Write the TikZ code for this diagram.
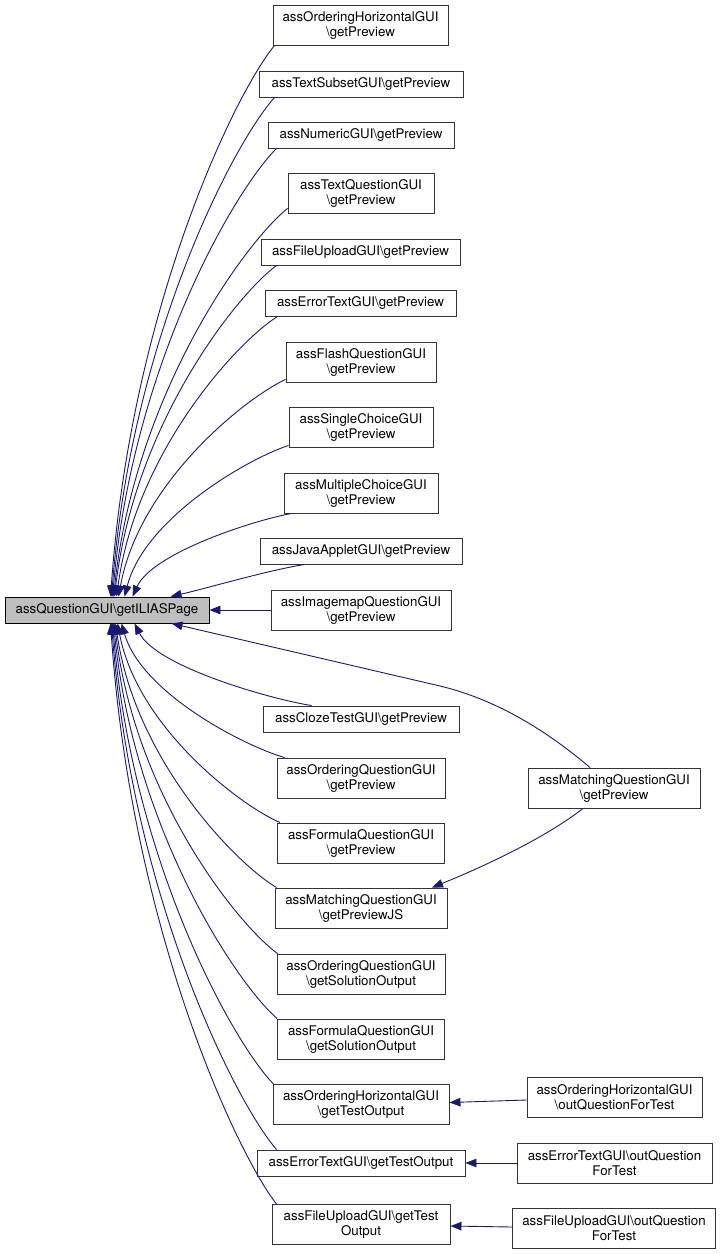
\documentclass[tikz,border=0pt]{standalone}
\usepackage{fontspec}
\setmainfont{TeX Gyre Heros}
\usetikzlibrary{arrows.meta,calc}
\definecolor{edgeblue}{HTML}{191970}
\definecolor{boxline}{HTML}{333333}
\definecolor{mainfill}{HTML}{BFBFBF}
\newcommand{\bs}{\textbackslash}
\begin{document}
\begin{tikzpicture}[x=1pt,y=-1pt,
  fnbox/.style 2 args={draw=boxline, line width=0.9pt, fill=white, inner sep=0pt,
    minimum width=#1pt, minimum height=#2pt, align=center,
    font=\fontsize{13.3}{15}\selectfont},
  callarrow/.style={draw=edgeblue, line width=0.9pt,
    -{Triangle[length=11pt,width=8.5pt]}}]
\useasboundingbox (0,0) rectangle (721,1255);
\fill[white] (0,0) rectangle (721,1255);
% main node
\node[fnbox={204}{26}, fill=mainfill, draw=black] (main) at (107,610) {assQuestionGUI\bs getILIASPage};
% middle column
\node[fnbox={175}{40}] (OHprev) at (360.5,25) {assOrderingHorizontalGUI\\\bs getPreview};
\node[fnbox={204}{26}] (TSprev) at (361,84) {assTextSubsetGUI\bs getPreview};
\node[fnbox={186}{26}] (NUprev) at (361,135) {assNumericGUI\bs getPreview};
\node[fnbox={146}{40}] (TQprev) at (361,193) {assTextQuestionGUI\\\bs getPreview};
\node[fnbox={199}{26}] (FUprev) at (360.5,252) {assFileUploadGUI\bs getPreview};
\node[fnbox={191}{26}] (ETprev) at (360.5,303) {assErrorTextGUI\bs getPreview};
\node[fnbox={150}{40}] (FQprev) at (361,362) {assFlashQuestionGUI\\\bs getPreview};
\node[fnbox={144}{40}] (SCprev) at (361,427) {assSingleChoiceGUI\\\bs getPreview};
\node[fnbox={154}{40}] (MCprev) at (361,493) {assMultipleChoiceGUI\\\bs getPreview};
\node[fnbox={202}{26}] (JAprev) at (361,551) {assJavaAppletGUI\bs getPreview};
\node[fnbox={180}{40}] (IMprev) at (361,610) {assImagemapQuestionGUI\\\bs getPreview};
\node[fnbox={196}{26}] (CTprev) at (361,719) {assClozeTestGUI\bs getPreview};
\node[fnbox={168}{40}] (OQprev) at (361,778) {assOrderingQuestionGUI\\\bs getPreview};
\node[fnbox={167}{40}] (FOprev) at (361,843) {assFormulaQuestionGUI\\\bs getPreview};
\node[fnbox={172}{40}] (MQpjs) at (361,908) {assMatchingQuestionGUI\\\bs getPreviewJS};
\node[fnbox={168}{40}] (OQsol) at (361,974) {assOrderingQuestionGUI\\\bs getSolutionOutput};
\node[fnbox={167}{40}] (FOsol) at (361,1039) {assFormulaQuestionGUI\\\bs getSolutionOutput};
\node[fnbox={176}{40}] (OHtest) at (361,1104.5) {assOrderingHorizontalGUI\\\bs getTestOutput};
\node[fnbox={208}{26}] (ETtest) at (361,1163) {assErrorTextGUI\bs getTestOutput};
\node[fnbox={178}{40}] (FUtest) at (361,1224.5) {assFileUploadGUI\bs getTest\\Output};
% right column
\node[fnbox={172}{40}] (MQprev) at (614,788) {assMatchingQuestionGUI\\\bs getPreview};
\node[fnbox={175}{40}] (OHout) at (614.5,1097) {assOrderingHorizontalGUI\\\bs outQuestionForTest};
\node[fnbox={195}{40}] (ETout) at (614.5,1163) {assErrorTextGUI\bs outQuestion\\ForTest};
\node[fnbox={203}{40}] (FUout) at (614,1228) {assFileUploadGUI\bs outQuestion\\ForTest};
% upper edges
\draw[callarrow] ($(OHprev.south west)+(2,0)$) .. controls (234,94.7) and (130.7,310) .. ($(main.north west)+(106,0)$);
\draw[callarrow] ($(TSprev.south west)+(16,0)$) .. controls (234.3,142) and (131.6,337) .. ($(main.north west)+(107,0)$);
\draw[callarrow] ($(NUprev.south west)+(9,0)$) .. controls (236,188.4) and (132.7,363.5) .. ($(main.north west)+(108,0)$);
\draw[callarrow] ($(TQprev.south west)+(0,-5)$) .. controls (244.5,243) and (134.9,394.7) .. ($(main.north west)+(109,0)$);
\draw[callarrow] ($(FUprev.south west)+(16,0)$) .. controls (236.5,294.9) and (134.4,424.4) .. ($(main.north west)+(110,0)$);
\draw[callarrow] ($(ETprev.south west)+(13,0)$) .. controls (237.8,341.3) and (136.3,450.9) .. ($(main.north west)+(112,0)$);
\draw[callarrow] ($(FQprev.south west)+(0,-3)$) .. controls (244.3,398.6) and (139,483.6) .. ($(main.north west)+(114,0)$);
\draw[callarrow] ($(SCprev.south west)+(0,-2)$) .. controls (248,458.7) and (144.7,518) .. ($(main.north west)+(120,0)$);
\draw[callarrow] ($(MCprev.south west)+(8,0)$) .. controls (252.3,520.6) and (152.1,553.3) .. ($(main.north west)+(128,0)$);
\draw[callarrow] ($(JAprev.south west)+(45,0)$) .. controls (265,571) and (212,587) .. ($(main.north west)+(166,0)$);
\draw[callarrow] (IMprev.west) -- (main.east);
% lower edges
\draw[callarrow] ($(CTprev.north west)+(49,0)$) .. controls (267.8,698.5) and (156.2,666.2) .. ($(main.south west)+(130,0)$);
\draw[callarrow] ($(OQprev.north west)+(8,0)$) .. controls (244.3,745.9) and (141.6,693.2) .. ($(main.south west)+(117,0)$);
\draw[callarrow] ($(FOprev.north west)+(3,0)$) .. controls (239.5,805) and (137.4,727) .. ($(main.south west)+(113,0)$);
\draw[callarrow] ($(MQpjs.north west)+(2,0)$) .. controls (236.8,864.2) and (135.3,760.8) .. ($(main.south west)+(111,0)$);
\draw[callarrow] ($(OQsol.north west)+(1,0)$) .. controls (237.3,924.2) and (134.6,795.1) .. ($(main.south west)+(110,0)$);
\draw[callarrow] ($(FOsol.north west)+(0,0)$) .. controls (236.6,983.4) and (133.6,828.9) .. ($(main.south west)+(109,0)$);
\draw[callarrow] ($(OHtest.north west)+(1,0)$) .. controls (233.8,1043.4) and (132.3,863.2) .. ($(main.south west)+(108,0)$);
\draw[callarrow] ($(ETtest.north west)+(20,0)$) .. controls (235.8,1102.6) and (131.8,897) .. ($(main.south west)+(107,0)$);
\draw[callarrow] ($(FUtest.north west)+(5,0)$) .. controls (235.5,1151.7) and (130.9,925.1) .. ($(main.south west)+(106,0)$);
% matching preview edges
\draw[callarrow] ($(MQprev.north)+(-24,0)$) .. controls (540,725) and (490,698) .. (440,686) -- ($(main.south west)+(167,0)$);
\draw[callarrow] ($(MQprev.south)+(-31,0)$) .. controls (545,838) and (485,866) .. ($(MQpjs.north)+(71,0)$);
% right column edges
\draw[callarrow] ($(OHout.west)+(0,3)$) -- ($(OHtest.east)+(0,-2)$);
\draw[callarrow] (ETout.west) -- (ETtest.east);
\draw[callarrow] ($(FUout.west)+(0,-1)$) -- ($(FUtest.east)+(0,1.5)$);
\end{tikzpicture}
\end{document}
